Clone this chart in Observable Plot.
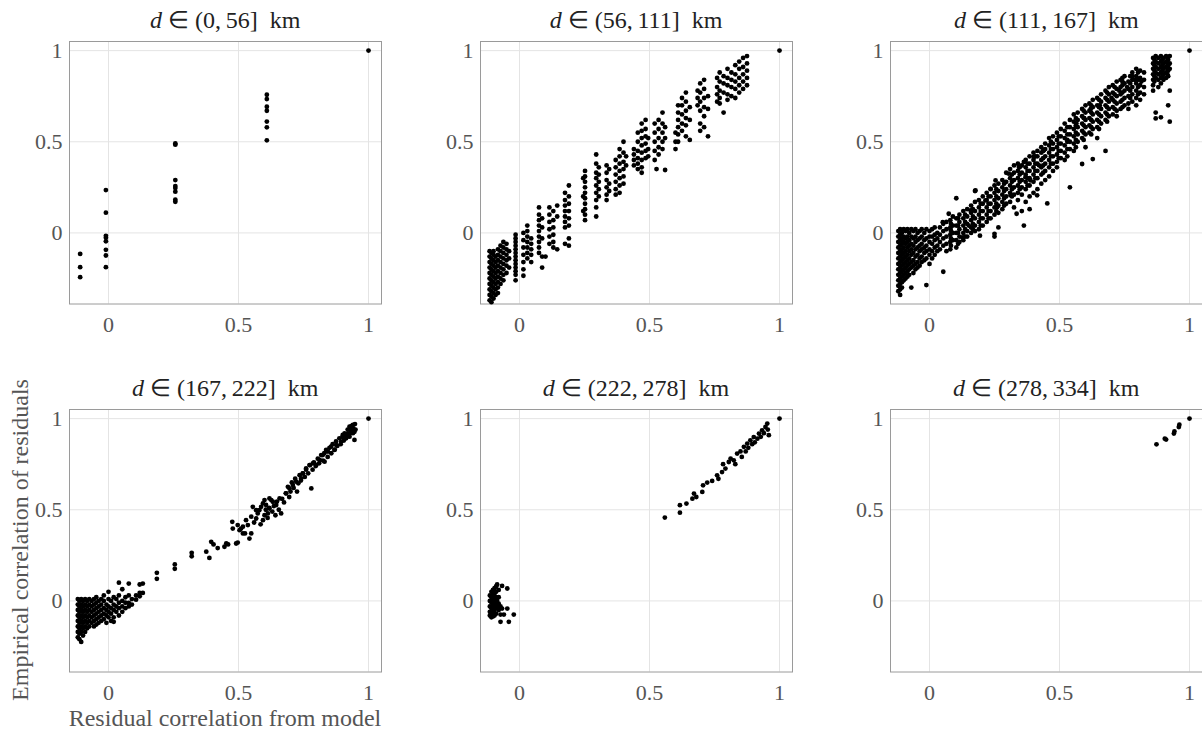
<!DOCTYPE html>
<html><head><meta charset="utf-8">
<script src="https://cdn.jsdelivr.net/npm/d3@7"></script>
<script src="https://cdn.jsdelivr.net/npm/@observablehq/plot@0.6"></script>
<style>
body{margin:0;background:#fff;width:1202px;height:734px;overflow:hidden;position:relative;font-family:'Liberation Serif',serif;}
.panel{position:absolute;}
.panel text{font-family:'Liberation Serif',serif !important;font-size:22px !important;}
.title{position:absolute;font-size:24px;line-height:24px;color:#222;transform:translateX(-50%);white-space:nowrap;}
.ylab{position:absolute;font-size:24px;line-height:24px;color:#555;white-space:nowrap;transform:translate(-50%,-50%) rotate(-90deg);}
.xlab{position:absolute;font-size:24px;line-height:24px;color:#555;white-space:nowrap;transform:translate(-50%,-50%);}
</style></head>
<body>
<div id="root"></div>
<script>
// Panel titles (distance bins, km)
const binLo = [0, 56, 111, 167, 222, 278];
const binHi = [56, 111, 167, 222, 278, 334];
const xTicks = [0, 0.5, 1];
const yTicks = [0, 0.5, 1];

// Panel 1: columns [model corr, [empirical corr ...]]
const panel1 = [
  [-0.109, [-0.115, -0.188, -0.243]],
  [-0.01, [0.235, 0.111, -0.016, -0.027, -0.046, -0.093, -0.124, -0.188]],
  [0.257, [0.491, 0.484, 0.29, 0.257, 0.246, 0.226, 0.182, 0.171]],
  [0.609, [0.758, 0.734, 0.692, 0.67, 0.611, 0.579, 0.508]],
  [1, [1]]
];

// Panel 2
const panel2 = [
  [-0.115, [-0.1,-0.13,-0.16,-0.19,-0.22,-0.25,-0.28,-0.31,-0.34,-0.37]],
  [-0.108, [-0.11,-0.14,-0.17,-0.2,-0.23,-0.26,-0.29,-0.32,-0.35,-0.38]],
  [-0.1, [-0.1,-0.12,-0.15,-0.18,-0.21,-0.24,-0.27,-0.3,-0.33,-0.36]],
  [-0.092, [-0.13,-0.16,-0.19,-0.22,-0.25,-0.28,-0.31,-0.34]],
  [-0.083, [-0.09,-0.12,-0.15,-0.18,-0.21,-0.24,-0.27,-0.3,-0.33]],
  [-0.073, [-0.07,-0.1,-0.13,-0.16,-0.19,-0.22,-0.25,-0.28]],
  [-0.062, [-0.05,-0.08,-0.11,-0.14,-0.17,-0.2,-0.23,-0.26]],
  [-0.05, [-0.06,-0.09,-0.12,-0.15,-0.18,-0.22]],
  [-0.04, [-0.1,-0.14,-0.19]],
  [-0.015, [-0.01,-0.03,-0.05,-0.07,-0.09,-0.11,-0.13,-0.15,-0.17,-0.19,-0.21,-0.23,-0.26]],
  [0.015, [0.0,-0.04,-0.08,-0.12,-0.16,-0.2,-0.235]],
  [0.03, [0.04,0.01,-0.02,-0.05,-0.08,-0.11,-0.14]],
  [0.045, [-0.03,-0.06,-0.09,-0.12,-0.16]],
  [0.075, [0.14,0.1,0.07,0.04,0.01,-0.02,-0.05,-0.08,-0.11]],
  [0.087, [0.08,0.03,-0.03,-0.13,-0.19]],
  [0.1, [-0.13]],
  [0.115, [0.14,0.1,0.06,0.02,-0.02,-0.06]],
  [0.13, [0.12,0.07,0.03,-0.01,-0.05,-0.08]],
  [0.145, [0.15,0.09,-0.09]],
  [0.175, [0.22,0.18,0.15,0.12,0.09,0.06,0.03,-0.06]],
  [0.19, [0.26,0.2,0.16,0.12,0.08,0.04,-0.03,-0.07]],
  [0.245, [0.3,0.2,0.12]],
  [0.252, [0.34,0.31,0.28,0.25,0.22,0.19,0.16,0.13,0.1,0.07]],
  [0.295, [0.43,0.38,0.33,0.3,0.26,0.22,0.18,0.14,0.09]],
  [0.305, [0.36,0.32,0.28,0.24,0.2]],
  [0.335, [0.37,0.33,0.29,0.25,0.21,0.18]],
  [0.345, [0.35,0.27,0.23]],
  [0.37, [0.4,0.36,0.32,0.28,0.24,0.21]],
  [0.385, [0.46,0.42,0.38,0.34,0.3,0.26,0.22]],
  [0.4, [0.5,0.44,0.39,0.35,0.31,0.27]],
  [0.41, [0.42,0.37]],
  [0.44, [0.46,0.43,0.4,0.37]],
  [0.455, [0.55,0.5,0.45,0.41,0.38,0.35]],
  [0.47, [0.6,0.56,0.52,0.48,0.44,0.4,0.36,0.33]],
  [0.485, [0.62,0.57,0.53,0.49,0.45,0.41]],
  [0.495, [0.52,0.46,0.42]],
  [0.52, [0.6,0.55,0.5,0.45,0.4]],
  [0.527, [0.35]],
  [0.535, [0.62,0.57,0.52,0.47,0.43]],
  [0.55, [0.66,0.6,0.55,0.5,0.46]],
  [0.56, [0.58,0.52,0.345]],
  [0.6, [0.55,0.5,0.46]],
  [0.61, [0.7,0.66,0.62,0.58,0.54,0.5]],
  [0.625, [0.74,0.7,0.65,0.6,0.56]],
  [0.64, [0.77,0.72,0.67,0.63,0.59,0.53]],
  [0.655, [0.69,0.62,0.51]],
  [0.685, [0.78,0.74,0.7]],
  [0.695, [0.82,0.77,0.72,0.67,0.6,0.56]],
  [0.71, [0.84,0.79,0.74,0.69,0.64,0.58]],
  [0.725, [0.75,0.68,0.53]],
  [0.76, [0.85,0.8,0.76,0.72]],
  [0.77, [0.88,0.83,0.78,0.74,0.71]],
  [0.785, [0.86,0.82,0.77,0.66]],
  [0.8, [0.9,0.85,0.81,0.76,0.73]],
  [0.815, [0.88,0.84,0.8,0.75]],
  [0.83, [0.92,0.87,0.83,0.79,0.74]],
  [0.845, [0.94,0.9,0.85,0.81,0.77]],
  [0.86, [0.96,0.91,0.87,0.83,0.79]],
  [0.875, [0.97,0.93,0.89,0.85,0.81]],
  [1, [1]]
];

// Panel 3
const panel3 = [
  [-0.12, [0.01,-0.02,-0.05,-0.08,-0.11,-0.14,-0.17,-0.2,-0.23,-0.26,-0.29,-0.32]],
  [-0.113, [0.02,-0.01,-0.04,-0.07,-0.1,-0.13,-0.16,-0.19,-0.22,-0.25,-0.28,-0.31,-0.34]],
  [-0.106, [0.0,-0.03,-0.06,-0.09,-0.12,-0.15,-0.18,-0.21,-0.24,-0.27,-0.3]],
  [-0.099, [0.02,-0.02,-0.05,-0.08,-0.11,-0.14,-0.17,-0.2,-0.23,-0.26]],
  [-0.092, [0.01,-0.03,-0.06,-0.1,-0.13,-0.16,-0.19,-0.22,-0.25]],
  [-0.085, [0.02,-0.02,-0.05,-0.08,-0.12,-0.15,-0.18,-0.21,-0.24]],
  [-0.078, [0.0,-0.04,-0.07,-0.1,-0.14,-0.17,-0.2,-0.23]],
  [-0.07, [0.02,-0.02,-0.06,-0.09,-0.12,-0.16,-0.19,-0.3]],
  [-0.062, [0.01,-0.03,-0.07,-0.11,-0.15,-0.18,-0.22]],
  [-0.054, [0.02,-0.02,-0.05,-0.09,-0.13,-0.17,-0.2]],
  [-0.046, [0.0,-0.04,-0.08,-0.12,-0.16,-0.19]],
  [-0.038, [0.01,-0.03,-0.07,-0.1,-0.14,-0.18]],
  [-0.03, [0.02,-0.02,-0.06,-0.09,-0.13,-0.16]],
  [-0.02, [0.0,-0.04,-0.08,-0.11,-0.15]],
  [-0.012, [0.02,-0.03,-0.07,-0.1,-0.14,-0.286]],
  [0.0, [0.01,-0.02,-0.05,-0.09,-0.12,-0.17]],
  [0.01, [0.02,-0.02,-0.06,-0.1,-0.14]],
  [0.02, [0.03,-0.01,-0.04,-0.08,-0.12]],
  [0.03, [0.0,-0.03,-0.07,-0.1]],
  [0.04, [0.03,-0.01,-0.05,-0.09]],
  [0.053, [0.05,0.01,-0.03,-0.07,-0.213]],
  [0.065, [0.06,0.02,-0.02,-0.06,-0.1]],
  [0.08, [0.07,0.03,-0.01,-0.05,-0.09]],
  [0.09, [0.09,0.04,0.0,-0.04]],
  [0.103, [0.19,0.08,0.04,0.0,-0.04,-0.08]],
  [0.115, [0.1,0.06,0.02,-0.02,-0.05]],
  [0.13, [0.12,0.08,0.04,0.0,-0.04]],
  [0.145, [0.13,0.09,0.05,0.01,-0.02]],
  [0.16, [0.15,0.11,0.07,0.03,0.0]],
  [0.175, [0.23,0.17,0.12,0.08,0.04,0.01]],
  [0.19, [0.18,0.14,0.1,0.06,0.02]],
  [0.205, [0.2,0.16,0.12,0.08,0.04]],
  [0.22, [0.22,0.18,0.14,0.1,0.06]],
  [0.235, [0.24,0.2,0.16,0.12,0.08]],
  [0.25, [0.26,0.22,0.18,0.14,0.1,-0.005,-0.02]],
  [0.265, [0.27,0.23,0.19,0.15,0.11,0.03]],
  [0.28, [0.29,0.25,0.21,0.17,0.13]],
  [0.295, [0.33,0.28,0.24,0.2,0.16]],
  [0.31, [0.35,0.3,0.26,0.22,0.17]],
  [0.325, [0.37,0.33,0.29,0.25,0.21,0.14]],
  [0.34, [0.38,0.34,0.3,0.26,0.22,0.18]],
  [0.355, [0.37,0.33,0.29,0.25,0.21,0.12]],
  [0.363, [0.04]],
  [0.37, [0.4,0.36,0.32,0.28,0.24,0.17]],
  [0.385, [0.42,0.38,0.34,0.3,0.26,0.2,0.13]],
  [0.4, [0.44,0.4,0.36,0.32,0.28,0.22]],
  [0.415, [0.45,0.42,0.38,0.34,0.3,0.24]],
  [0.43, [0.47,0.44,0.4,0.36,0.32,0.27]],
  [0.445, [0.49,0.46,0.42,0.38,0.34,0.29]],
  [0.453, [0.162]],
  [0.46, [0.52,0.48,0.44,0.4,0.36,0.31]],
  [0.475, [0.53,0.49,0.46,0.42,0.38,0.34]],
  [0.49, [0.55,0.51,0.47,0.43,0.39,0.36]],
  [0.505, [0.57,0.53,0.49,0.45,0.41]],
  [0.52, [0.6,0.56,0.52,0.48,0.44,0.4]],
  [0.54, [0.62,0.58,0.54,0.5,0.46,0.25]],
  [0.555, [0.65,0.61,0.57,0.53,0.49,0.45]],
  [0.57, [0.66,0.62,0.58,0.54,0.5]],
  [0.587, [0.68,0.64,0.6,0.56,0.52,0.378]],
  [0.6, [0.7,0.66,0.62,0.58,0.54,0.47]],
  [0.615, [0.71,0.67,0.63,0.59,0.55]],
  [0.628, [0.73,0.69,0.65,0.61,0.57,0.405]],
  [0.645, [0.74,0.7,0.66,0.62,0.58,0.52]],
  [0.66, [0.76,0.72,0.68,0.64,0.6]],
  [0.677, [0.78,0.74,0.7,0.66,0.62,0.45]],
  [0.69, [0.8,0.76,0.72,0.68,0.64]],
  [0.705, [0.81,0.77,0.73,0.69,0.65]],
  [0.72, [0.83,0.79,0.75,0.71,0.67,0.64]],
  [0.735, [0.84,0.8,0.76,0.72,0.68]],
  [0.75, [0.86,0.82,0.78,0.74,0.7]],
  [0.765, [0.83,0.79,0.75,0.71,0.68]],
  [0.78, [0.88,0.84,0.8,0.76,0.72]],
  [0.795, [0.9,0.86,0.82,0.78,0.74,0.7]],
  [0.81, [0.89,0.85,0.81,0.77,0.73]],
  [0.825, [0.88,0.84,0.8,0.76]],
  [0.86, [0.96,0.93,0.9,0.87,0.84,0.81,0.78]],
  [0.87, [0.97,0.94,0.91,0.88,0.85,0.628,0.66]],
  [0.88, [0.96,0.93,0.9,0.87,0.84,0.8]],
  [0.89, [0.97,0.94,0.91,0.88,0.85,0.82,0.634]],
  [0.9, [0.96,0.93,0.9,0.87,0.84]],
  [0.91, [0.97,0.94,0.91,0.88,0.85]],
  [0.918, [0.95,0.92,0.89,0.86,0.7]],
  [0.924, [0.97,0.93,0.9,0.78,0.61]],
  [1, [1]]
];
// Panel 3: extra points filling the dense band
const panel3fill = [
  [0.0825, [0.05,0.01,-0.03,-0.07]],
  [0.11, [0.08,0.04,0.0,-0.06]],
  [0.137, [0.1,0.06,0.02,-0.02]],
  [0.167, [0.13,0.09,0.05,0.02]],
  [0.197, [0.16,0.12,0.08,0.04]],
  [0.227, [0.2,0.16,0.12,0.08]],
  [0.257, [0.24,0.2,0.16,0.12]],
  [0.287, [0.27,0.23,0.19,0.15]],
  [0.317, [0.32,0.28,0.24,0.2]],
  [0.347, [0.36,0.32,0.28,0.24]],
  [0.377, [0.38,0.34,0.3,0.26]],
  [0.407, [0.42,0.38,0.34,0.3]],
  [0.437, [0.45,0.41,0.37,0.33]],
  [0.467, [0.5,0.46,0.42,0.38]],
  [0.497, [0.53,0.49,0.45,0.41]],
  [0.53, [0.58,0.54,0.5,0.46,0.42]],
  [0.563, [0.63,0.59,0.55,0.51,0.47]],
  [0.593, [0.67,0.63,0.59,0.55,0.51]],
  [0.622, [0.7,0.66,0.62,0.58,0.54]],
  [0.652, [0.73,0.69,0.65,0.61,0.57]],
  [0.683, [0.77,0.73,0.69,0.65,0.61]],
  [0.712, [0.8,0.76,0.72,0.68]],
  [0.742, [0.85,0.81,0.77,0.73,0.69]],
  [0.772, [0.86,0.82,0.78,0.74]],
  [0.802, [0.88,0.84,0.8,0.76]],
  [0.865, [0.95,0.92,0.89,0.86,0.83]],
  [0.895, [0.95,0.92,0.89,0.86]],
  [0.915, [0.96,0.93,0.9,0.87]]
];
const panel3extra = [
  [0.051,0.059],[0.074,0.105],[0.081,0.022],[0.126,-0.024],[0.151,0.04],[0.158,0.123],[0.177,0.233],
  [0.194,-0.015],[0.215,0.178],[0.235,0.242],[0.254,0.288],[0.26,0.141],[0.292,0.279],[0.305,0.325],
  [0.312,0.206],[0.335,0.105],[0.344,0.361],[0.363,0.389],[0.369,0.306],[0.388,0.288],[0.401,0.417],
  [0.414,0.206],[0.421,0.371],[0.44,0.453],[0.53,0.51],[0.565,0.6],[0.595,0.63],[0.62,0.68],
  [0.655,0.7],[0.7,0.74],[0.73,0.78],[0.76,0.8],[0.79,0.84],[0.815,0.83],[0.78,0.86],[0.742,0.83]
];

// Panel 4: blob columns + band points
const panel4cols = [
  [-0.118, [0.01,-0.02,-0.05,-0.08,-0.11,-0.14,-0.17,-0.2]],
  [-0.112, [0.0,-0.03,-0.06,-0.09,-0.12,-0.15,-0.18,-0.21]],
  [-0.105, [0.01,-0.02,-0.05,-0.08,-0.11,-0.14,-0.17,-0.225]],
  [-0.098, [0.0,-0.03,-0.06,-0.09,-0.12,-0.15,-0.19]],
  [-0.09, [0.01,-0.02,-0.05,-0.08,-0.11,-0.14,-0.17]],
  [-0.082, [0.0,-0.03,-0.06,-0.09,-0.12,-0.15]],
  [-0.074, [0.01,-0.02,-0.05,-0.08,-0.11,-0.14]],
  [-0.065, [0.0,-0.03,-0.06,-0.09,-0.12]],
  [-0.056, [0.01,-0.02,-0.05,-0.08,-0.11,-0.14]],
  [-0.047, [0.02,-0.01,-0.04,-0.07,-0.1,-0.13]],
  [-0.038, [0.0,-0.03,-0.06,-0.09,-0.12]],
  [-0.028, [0.01,-0.02,-0.05,-0.08,-0.11]],
  [-0.018, [0.03,0.0,-0.04,-0.07,-0.1]],
  [-0.008, [-0.02,-0.05,-0.08,-0.12]],
  [0.0, [0.05,0.01,-0.03,-0.06,-0.09]],
  [0.01, [0.0,-0.04,-0.07,-0.11]],
  [0.02, [0.02,-0.02,-0.05,-0.09,-0.115]],
  [0.03, [0.01,-0.03,-0.06]],
  [0.04, [0.1,0.03,-0.01,-0.04,-0.08]],
  [0.053, [0.064,0.0,-0.03,-0.06]],
  [0.065, [0.02,-0.01,-0.04]],
  [0.078, [0.095,0.03,-0.011,-0.03]],
  [0.09, [0.01,-0.02]],
  [0.106, [0.03,0.007]],
  [0.12, [0.09,0.044,0.025]],
  [0.132, [0.095,0.044]],
  [0.186, [0.154,0.121]],
  [0.255, [0.2,0.176]],
  [0.32, [0.264,0.245]]
];
const panel4band = [
  [0.376,0.27],[0.388,0.236],[0.395,0.324],[0.404,0.31],[0.42,0.29],[0.446,0.297],[0.46,0.31],
  [0.476,0.434],[0.478,0.397],[0.491,0.315],[0.497,0.32],[0.51,0.397],[0.517,0.407],[0.525,0.37],
  [0.536,0.416],[0.542,0.342],[0.549,0.37],[0.555,0.516],[0.56,0.43],[0.568,0.452],[0.574,0.48],
  [0.58,0.498],[0.585,0.42],[0.594,0.443],[0.594,0.535],[0.6,0.47],[0.605,0.5],[0.612,0.455],
  [0.618,0.51],[0.626,0.553],[0.63,0.49],[0.636,0.52],[0.642,0.47],[0.648,0.545],[0.655,0.5],
  [0.664,0.48],[0.668,0.56],[0.675,0.54],[0.682,0.59],[0.69,0.626],[0.695,0.57],[0.7,0.6],
  [0.705,0.65],[0.712,0.62],[0.718,0.67],[0.725,0.6],[0.73,0.645],[0.735,0.69],[0.74,0.66],
  [0.748,0.7],[0.755,0.68],[0.76,0.72],[0.768,0.7],[0.775,0.745],[0.78,0.617],[0.785,0.72],
  [0.79,0.76],[0.797,0.74],[0.805,0.78],[0.81,0.755],[0.818,0.8],[0.825,0.77],[0.83,0.81],
  [0.837,0.828],[0.843,0.79],[0.85,0.84],[0.857,0.81],[0.862,0.86],[0.87,0.83],[0.875,0.875],
  [0.88,0.85],[0.888,0.892],[0.893,0.86],[0.9,0.9],[0.905,0.88],[0.908,0.919],[0.915,0.9],
  [0.92,0.94],[0.925,0.91],[0.927,0.956],[0.932,0.93],[0.935,0.96],[0.94,0.92],[0.942,0.945],
  [0.946,0.883],[0.948,0.97],[0.95,0.94],[1,1],
  [0.619,0.562],[0.632,0.544],[0.645,0.526],[0.606,0.526],[0.619,0.507],[0.658,0.562],[0.683,0.59],
  [0.696,0.617],[0.709,0.636],[0.722,0.654],[0.741,0.672],[0.747,0.7],[0.76,0.727],[0.773,0.745],
  [0.786,0.755],[0.799,0.745],[0.812,0.773],[0.824,0.8],[0.831,0.764],[0.844,0.819],[0.856,0.846],
  [0.869,0.828],[0.876,0.855],[0.895,0.874],[0.901,0.91],[0.914,0.892],[0.921,0.919],[0.927,0.901],
  [0.933,0.938],[0.94,0.965],[0.946,0.928],[0.529,0.443],[0.549,0.462],[0.568,0.498],[0.587,0.516],
  [0.6,0.553],[0.613,0.48],[0.517,0.37],[0.504,0.388],[0.497,0.416],[0.453,0.315]
];

// Panel 5
const panel5cols = [
  [-0.114, [0.03,0.0,-0.03,-0.06,-0.08]],
  [-0.108, [0.05,0.02,-0.01,-0.04,-0.07,-0.09]],
  [-0.102, [0.06,0.03,0.0,-0.03,-0.06,-0.085]],
  [-0.096, [0.07,0.04,0.01,-0.02,-0.05,-0.08]],
  [-0.09, [0.08,0.05,0.02,-0.01,-0.04,-0.07]],
  [-0.086, [0.09,0.0,-0.03]],
  [-0.08, [0.06,0.02,-0.015,-0.05]],
  [-0.073, [-0.115,-0.075,-0.03]],
  [-0.067, [0.082,-0.042]],
  [-0.06, [-0.075]],
  [-0.047, [0.068,-0.042]],
  [-0.041, [-0.115]],
  [-0.022, [-0.075]]
];
const panel5band = [
  [0.559,0.457],[0.617,0.484],[0.617,0.525],[0.642,0.534],[0.665,0.561],[0.671,0.589],[0.68,0.57],
  [0.703,0.598],[0.706,0.634],[0.722,0.649],[0.741,0.658],[0.76,0.689],[0.765,0.67],[0.779,0.707],
  [0.783,0.75],[0.792,0.726],[0.805,0.762],[0.812,0.781],[0.824,0.771],[0.83,0.75],[0.837,0.808],
  [0.85,0.82],[0.855,0.79],[0.863,0.845],[0.87,0.82],[0.876,0.863],[0.88,0.84],[0.888,0.881],
  [0.895,0.86],[0.901,0.899],[0.905,0.87],[0.915,0.89],[0.921,0.918],[0.928,0.9],[0.933,0.936],
  [0.94,0.92],[0.946,0.954],[0.953,0.973],[0.959,0.909],[0.955,0.94],[1,1]
];

// Panel 6
const panel6 = [
  [0.873,0.859],[0.905,0.89],[0.91,0.885],[0.94,0.918],[0.942,0.93],[0.959,0.954],[0.961,0.967],[1,1]
];

const fromCols = cols => cols.flatMap(([x, ys]) => ys.map(y => ({x, y})));
const fromPairs = pairs => pairs.map(([x, y]) => ({x, y}));

const datasets = [
  fromCols(panel1),
  fromCols(panel2),
  fromCols(panel3).concat(fromCols(panel3fill), fromPairs(panel3extra)),
  fromCols(panel4cols).concat(fromPairs(panel4band)),
  fromCols(panel5cols).concat(fromPairs(panel5band)),
  fromPairs(panel6)
];

const frameLefts = [69.3, 480, 890.3];
const frameTops = [41, 408.5];
const FW = 312, FH = 262.5;
const mL = 60, mR = 10, mT = 5, mB = 40;
const FONT = "'Liberation Serif', serif";

const root = document.getElementById("root");
datasets.forEach((data, i) => {
  const col = i % 3, row = Math.floor(i / 3);
  const fl = frameLefts[col], ft = frameTops[row];
  const svg = Plot.plot({
    width: mL + FW + mR,
    height: mT + FH + mB,
    marginLeft: mL, marginRight: mR, marginTop: mT, marginBottom: mB,
    style: {fontFamily: FONT, fontSize: "22px", color: "#555", background: "transparent", overflow: "visible"},
    x: {domain: [-0.15, 1.05], ticks: xTicks, tickSize: 0, tickPadding: 12, label: null, tickFormat: d => String(d)},
    y: {domain: [-0.39, 1.05], ticks: yTicks, tickSize: 0, tickPadding: 7, label: null, tickFormat: d => String(d)},
    marks: [
      Plot.gridX(xTicks, {stroke: "#e4e4e4", strokeOpacity: 1}),
      Plot.gridY(yTicks, {stroke: "#e4e4e4", strokeOpacity: 1}),
      Plot.frame({stroke: "#9a9a9a"}),
      Plot.dot(data, {x: "x", y: "y", r: 2.4, fill: "#000", stroke: null})
    ]
  });
  svg.classList.add("panel");
  svg.style.position = "absolute";
  svg.style.left = (fl - mL) + "px";
  svg.style.top = (ft - mT) + "px";
  root.appendChild(svg);

  const t = document.createElement("div");
  t.className = "title";
  t.innerHTML = `<i>d</i>&nbsp;∈&nbsp;(${binLo[i]},&thinsp;${binHi[i]}]&nbsp;&nbsp;km`;
  t.style.left = (fl + FW / 2) + "px";
  t.style.top = (ft - 33) + "px";
  root.appendChild(t);
});

const yl = document.createElement("div");
yl.className = "ylab";
yl.textContent = "Empirical correlation of residuals";
yl.style.left = "20px"; yl.style.top = "540px";
root.appendChild(yl);

const xl = document.createElement("div");
xl.className = "xlab";
xl.textContent = "Residual correlation from model";
xl.style.left = "225px"; xl.style.top = "718px";
root.appendChild(xl);
</script>
</body></html>
